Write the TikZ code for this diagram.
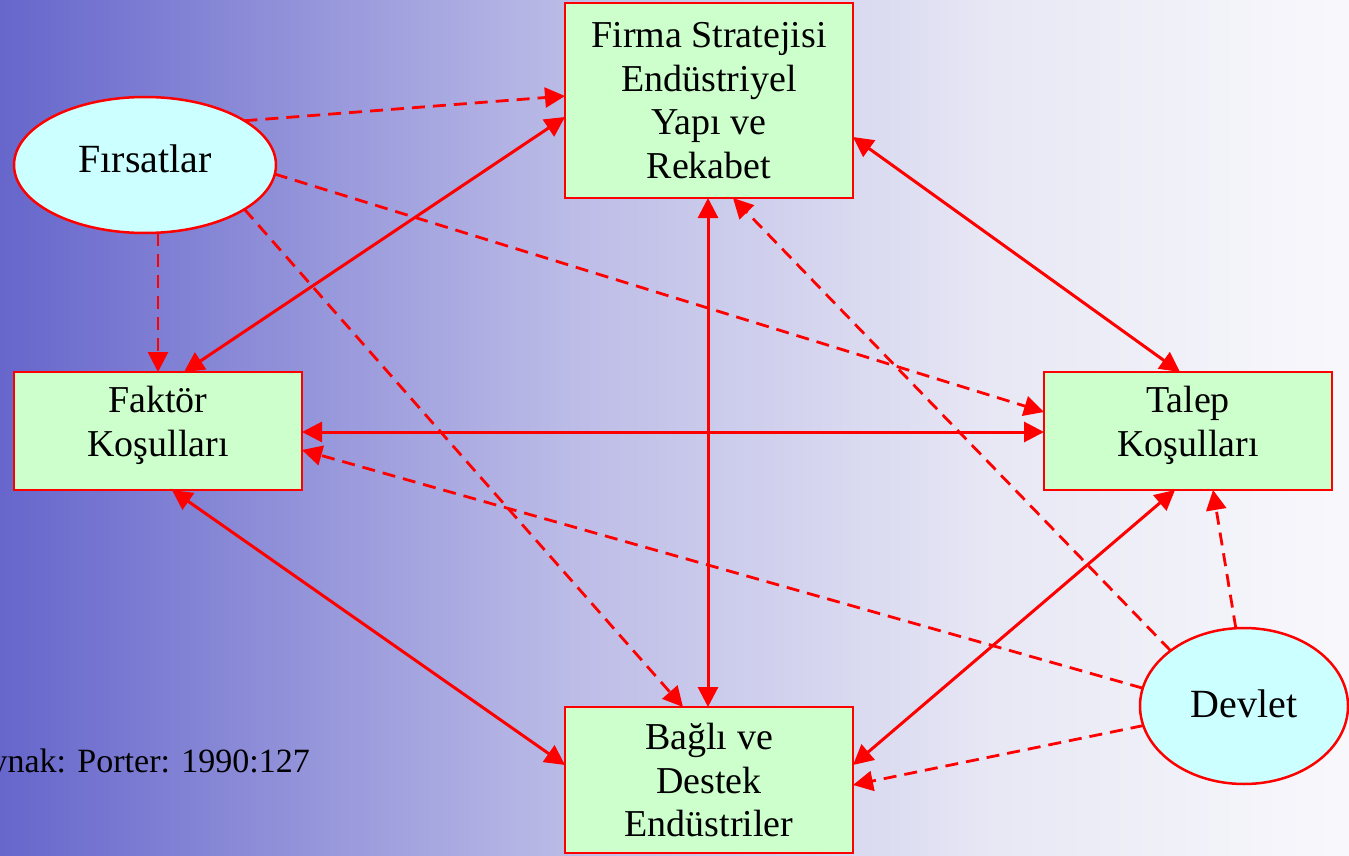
\documentclass[tikz,border=0pt]{standalone}
\usepackage{fontspec}
\setmainfont{Liberation Serif}
\usetikzlibrary{arrows.meta,shapes.geometric}
\definecolor{bxfill}{RGB}{204,255,204}
\definecolor{elfill}{RGB}{204,255,255}
\definecolor{bgA}{RGB}{102,102,204}
\definecolor{bgB}{RGB}{187,187,231}
\definecolor{bgC}{RGB}{232,232,245}
\definecolor{bgD}{RGB}{248,248,252}
\definecolor{redline}{RGB}{255,0,0}
\begin{document}
\begin{tikzpicture}[x=1pt,y=-1pt,
  box/.style={draw=redline, line width=2.5pt, fill=bxfill, minimum width=288pt,
    outer sep=0pt, inner sep=0pt, align=center, font=\fontsize{38}{43.5}\selectfont},
  ell/.style={draw=redline, line width=2.5pt, fill=elfill, ellipse, outer sep=0pt,
    inner sep=0pt, font=\fontsize{40}{46}\selectfont},
  conn/.style={draw=redline, line width=3pt,
    {Triangle[length=20pt,width=20pt]}-{Triangle[length=20pt,width=20pt]}},
  dconn/.style={draw=redline, line width=2.8pt, dash pattern=on 13pt off 8pt,
    -{Triangle[length=20pt,width=20pt]}}]
\useasboundingbox (0,0) rectangle (1349,856);
\clip (0,0) rectangle (1349,856);
\shade[left color=bgA, right color=bgB] (0,0) rectangle (566,856);
\shade[left color=bgB, right color=bgC] (565,0) rectangle (1001,856);
\shade[left color=bgC, right color=bgD] (1000,0) rectangle (1349,856);

\node[box, minimum height=195pt] (firma) at (709,100.5)
  {Firma Stratejisi\\Endüstriyel\\Yapı ve\\Rekabet};
\node[box, minimum height=118pt, text depth=19pt] (faktor) at (158,431) {Faktör\\Koşulları};
\node[box, minimum height=118pt, text depth=19pt] (talep) at (1188,431) {Talep\\Koşulları};
\node[box, minimum height=146pt] (bagli) at (709,780)
  {Bağlı ve\\Destek\\Endüstriler};
\node[ell, minimum width=262pt, minimum height=136pt, text depth=13pt] (fir) at (145,165) {Fırsatlar};
\node[ell, minimum width=208pt, minimum height=156pt, text depth=5pt] (devlet) at (1244,706) {Devlet};
\node[anchor=base east, font=\fontsize{34}{40}\selectfont, inner sep=0pt] (kaynak) at (310,772)
  {Kaynak: Porter: 1990:127};

% solid double-headed
\draw[conn] ([yshift=-16.5pt]firma.west) -- ([xshift=26pt]faktor.north);
\draw[conn] ([yshift=-36.5pt]firma.east) -- ([xshift=-8pt]talep.north);
\draw[conn] ([xshift=-1pt]firma.south) -- ([xshift=-1pt]bagli.north);
\draw[conn] ([yshift=-1pt]faktor.east) -- ([yshift=-1pt]talep.west);
\draw[conn] ([xshift=14pt]faktor.south) -- ([yshift=15pt]bagli.west);
\draw[conn] ([xshift=-13pt]talep.south) -- ([yshift=15pt]bagli.east);

% dashed
\draw[dconn] (fir.24) -- ([yshift=4.5pt]firma.west);
\draw[dconn] (fir.-4) -- ([yshift=19pt]talep.west);
\draw[dconn] (faktor.north |- fir.south) -- (faktor.north);
\draw[dconn] (fir.-24) -- ([xshift=-26pt]bagli.north);
\draw[dconn] (devlet.143.7) -- ([xshift=24pt]firma.south);
\draw[dconn] (devlet.170) -- ([yshift=-19pt]faktor.east);
\draw[dconn] (devlet.191.6) -- ([yshift=-5pt]bagli.east);
\draw[dconn] (devlet.96) -- ([xshift=25pt]talep.south);
\end{tikzpicture}
\end{document}
